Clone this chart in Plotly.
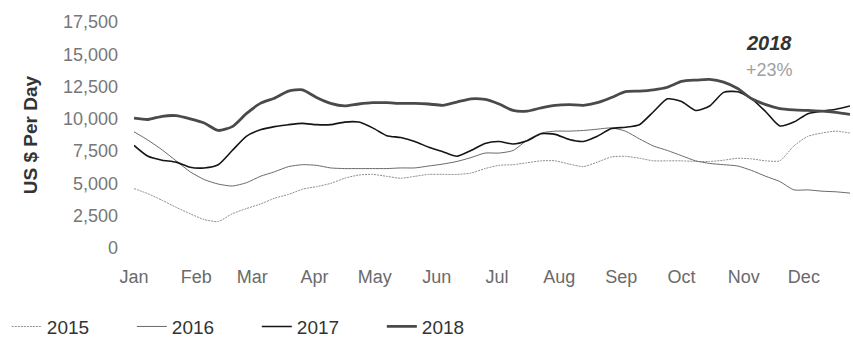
import pandas as pd
import plotly.graph_objects as go

# Weekly points, week 1 .. week 52 (seasonal comparison on a common calendar)
weeks = pd.date_range("2018-01-01", periods=52, freq="7D")

y2015 = [4600, 4200, 3700, 3150, 2650, 2200, 2050, 2650, 3050, 3400, 3850, 4150, 4550,
         4750, 5000, 5400, 5650, 5700, 5550, 5400, 5550, 5700, 5700, 5700, 5800, 6150,
         6400, 6450, 6600, 6750, 6750, 6500, 6300, 6650, 7050, 7100, 6950, 6750, 6750,
         6750, 6700, 6700, 6800, 6950, 6900, 6750, 6750, 7900, 8650, 8900, 9050, 8900]
y2016 = [9000, 8350, 7600, 6750, 5900, 5300, 4950, 4800, 5050, 5550, 5900, 6300, 6450,
         6400, 6200, 6150, 6150, 6150, 6150, 6200, 6200, 6350, 6500, 6700, 7000, 7350,
         7350, 7550, 8350, 8900, 9050, 9050, 9100, 9200, 9300, 9050, 8450, 7900, 7550,
         7150, 6750, 6550, 6450, 6350, 6000, 5550, 5150, 4500, 4500, 4400, 4350, 4250]
y2017 = [7950, 7100, 6800, 6650, 6250, 6200, 6450, 7550, 8650, 9150, 9400, 9550, 9650,
         9550, 9550, 9750, 9750, 9300, 8700, 8550, 8250, 7800, 7450, 7100, 7550, 8100,
         8250, 8050, 8300, 8850, 8800, 8400, 8250, 8650, 9250, 9350, 9550, 10550, 11550,
         11350, 10650, 11000, 12050, 12100, 11550, 10550, 9450, 9750, 10400, 10600, 10750, 11000]
y2018 = [10050, 9950, 10200, 10250, 10000, 9680, 9100, 9400, 10400, 11200, 11600, 12150, 12250,
         11650, 11200, 11000, 11150, 11250, 11250, 11200, 11200, 11150, 11050, 11300, 11550, 11500,
         11150, 10650, 10600, 10850, 11050, 11100, 11050, 11250, 11650, 12100, 12150, 12250, 12450,
         12900, 13000, 13050, 12850, 12350, 11550, 11100, 10800, 10700, 10650, 10600, 10500, 10350]

series = [
    ("2015", y2015, dict(color="#8f8f8f", width=1, dash="2px,1px")),
    ("2016", y2016, dict(color="#6a6a6a", width=1)),
    ("2017", y2017, dict(color="#151515", width=1.6)),
    ("2018", y2018, dict(color="#4a4a4a", width=2.8)),
]

y_ticks = [0, 2500, 5000, 7500, 10000, 12500, 15000, 17500]
month_labels = ["Jan", "Feb", "Mar", "Apr", "May", "Jun", "Jul", "Aug", "Sep", "Oct", "Nov", "Dec"]
month_starts = pd.date_range("2018-01-01", periods=12, freq="MS")

fig = go.Figure()
for name, vals, line in series:
    fig.add_trace(go.Scatter(x=weeks, y=vals, name=name, mode="lines",
                             line=dict(shape="spline", smoothing=0.6, **line)))

fig.update_layout(
    width=853, height=342,
    margin=dict(l=134, r=3, t=22, b=94),
    paper_bgcolor="white", plot_bgcolor="white",
    font=dict(family="Liberation Sans, Arial", color="#666666"),
    showlegend=True,
    legend=dict(orientation="h", xref="container", yref="container", x=0.008, y=0.045,
                xanchor="left", yanchor="middle", entrywidth=80, entrywidthmode="pixels",
                font=dict(size=19, color="#333333"), itemwidth=30),
    xaxis=dict(range=[weeks[0], weeks[-1]], tickvals=month_starts, ticktext=month_labels,
               showgrid=False, zeroline=False, showline=False, ticks="",
               tickfont=dict(size=18, color="#6a6a6a"), ticklabelstandoff=16),
    yaxis=dict(range=[0, 17500], tickvals=y_ticks, tickformat=",", showgrid=False,
               zeroline=False, showline=False, ticks="", ticklabelstandoff=15,
               tickfont=dict(size=18, color="#777777"),
               title=dict(text="<b>US $ Per Day</b>", standoff=20,
                          font=dict(size=19, color="#333333"))),
)

# Annotation for the latest year (paper coords relative to plot area)
fig.add_annotation(x=0.887, y=(248 - 43) / 226, xref="paper", yref="paper",
                   xanchor="center", yanchor="middle",
                   text="<b><i>2018</i></b>", showarrow=False,
                   font=dict(size=20, color="#333333"))
fig.add_annotation(x=0.887, y=(248 - 70) / 226, xref="paper", yref="paper",
                   xanchor="center", yanchor="middle",
                   text="+23%", showarrow=False,
                   font=dict(size=18, color="#a0a0a0"))
fig.write_html("out.html")
